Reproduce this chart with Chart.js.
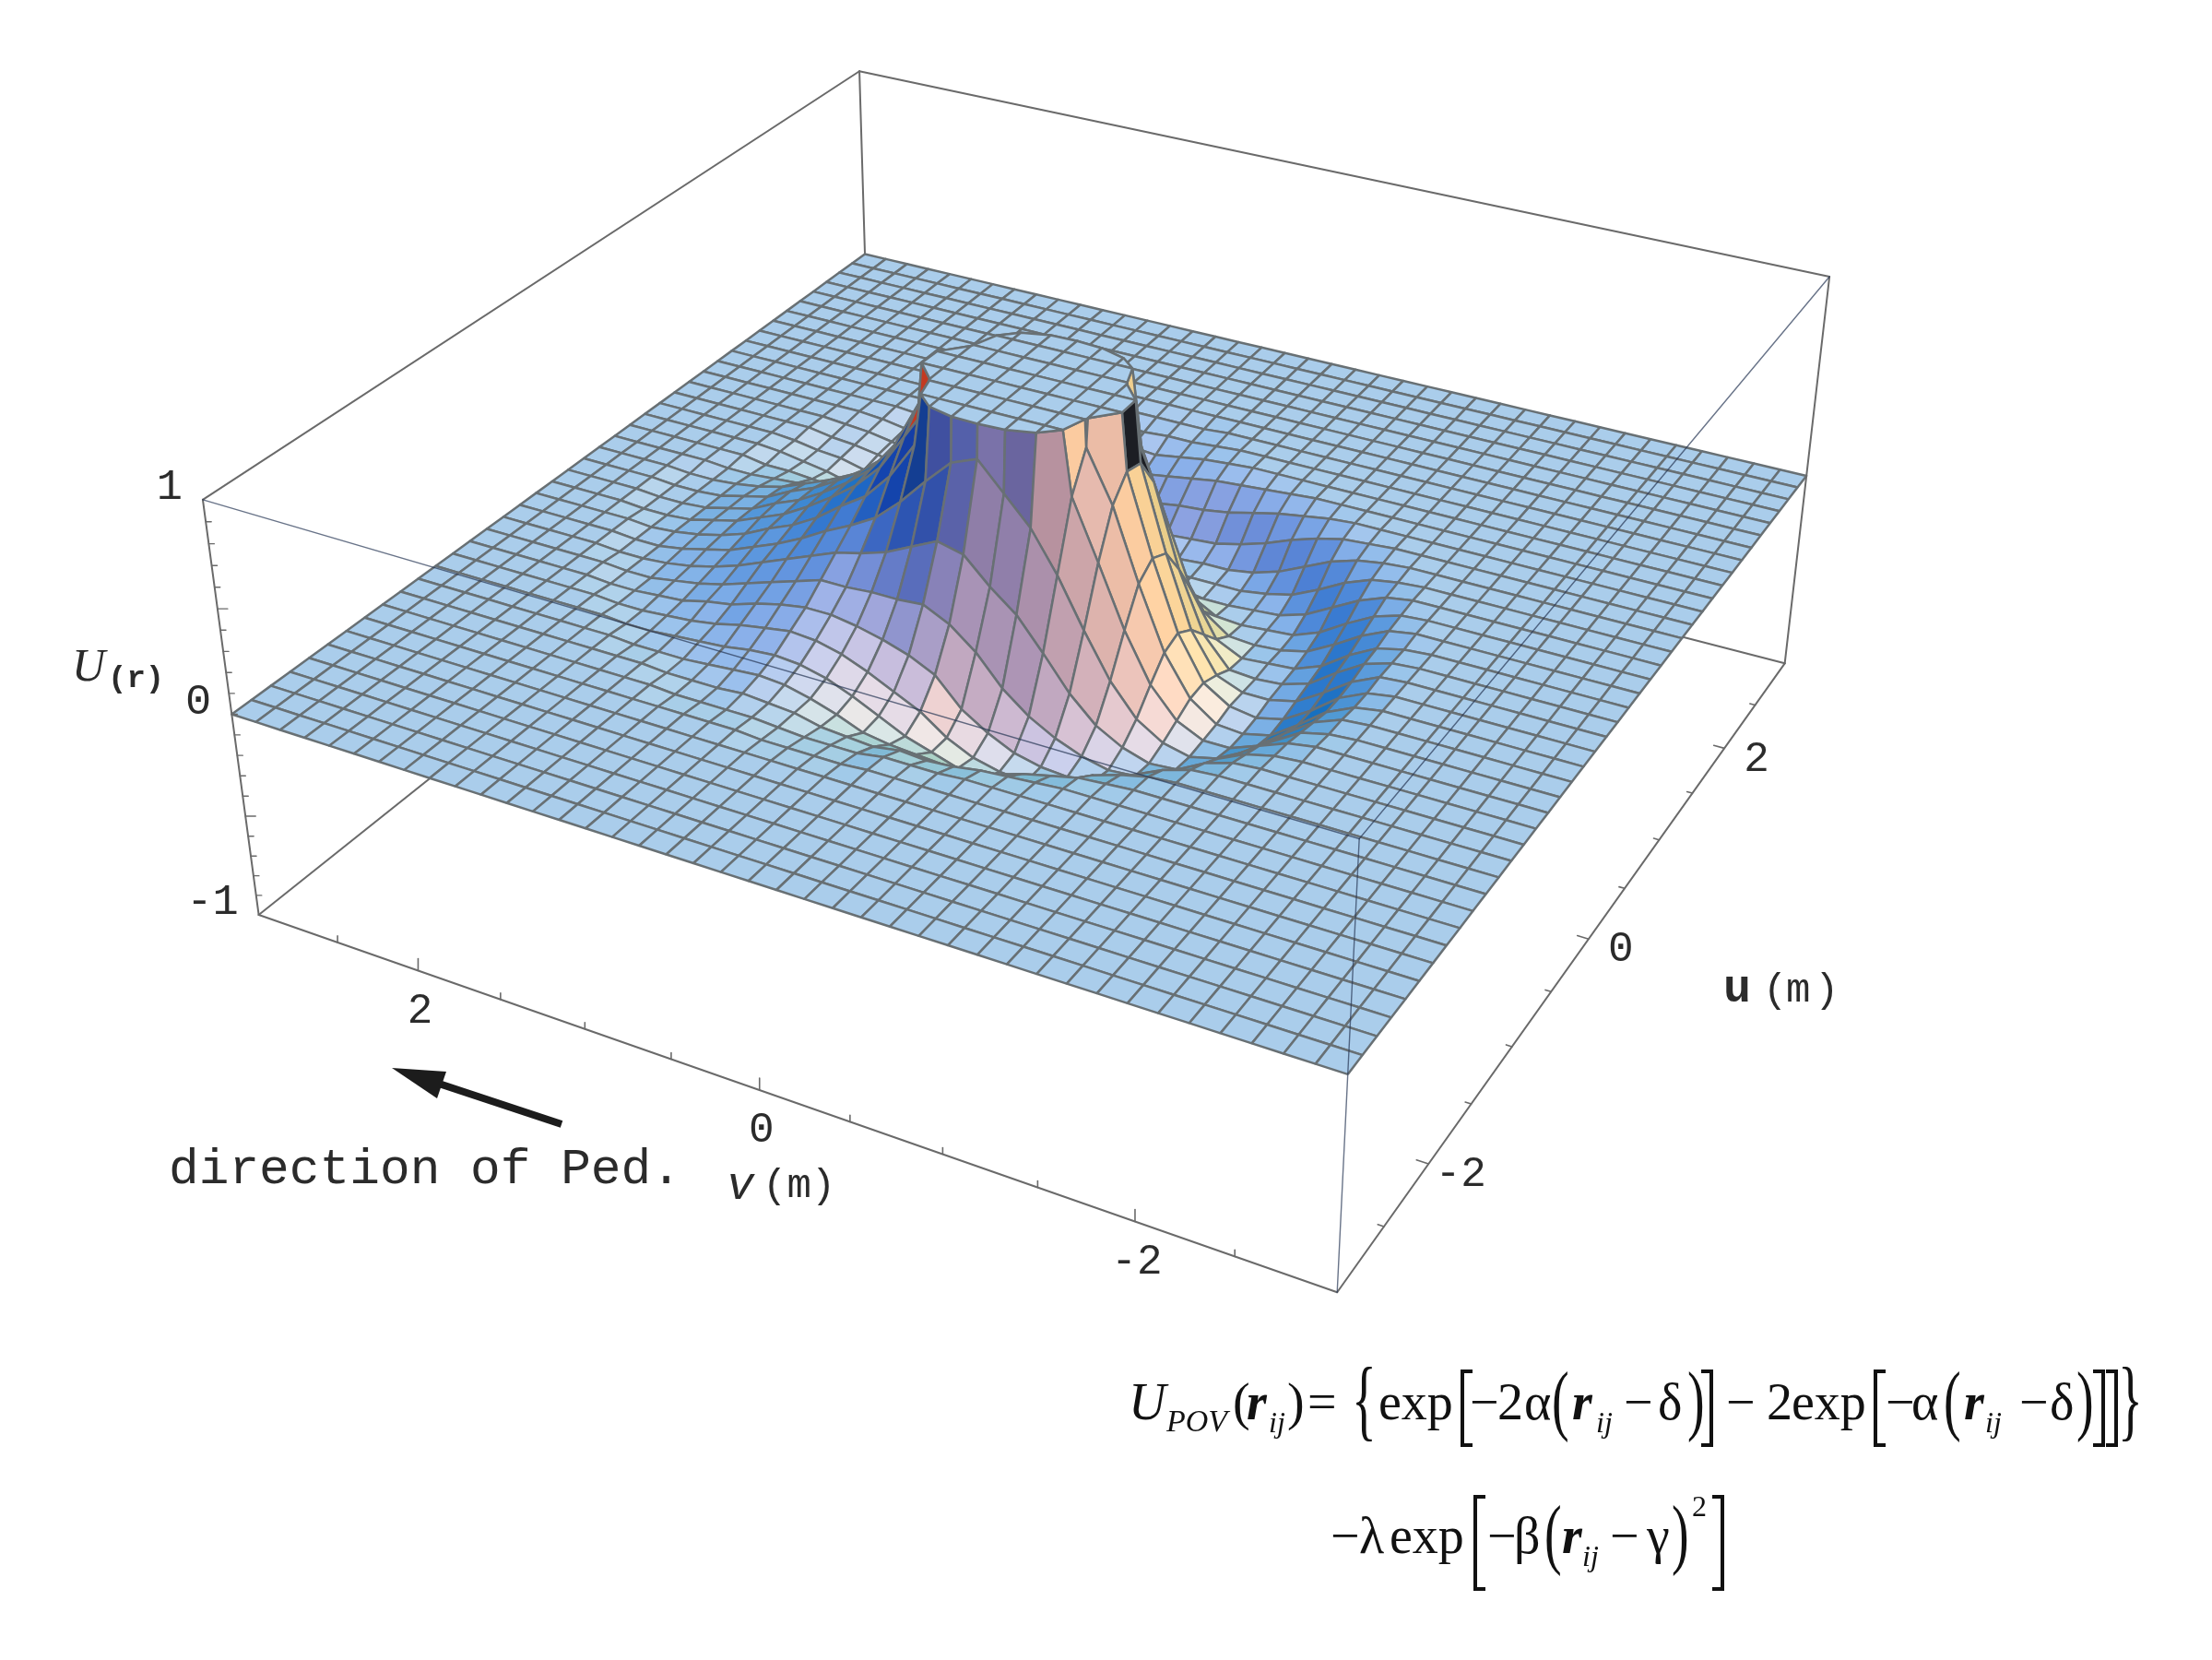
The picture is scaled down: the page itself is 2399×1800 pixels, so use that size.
<!DOCTYPE html>
<html><head><meta charset="utf-8"><style>html,body{margin:0;background:#fff}canvas{display:block}</style>
<script src="https://cdn.jsdelivr.net/npm/chart.js@4"></script></head><body>
<canvas id="c" width="2399" height="1800"></canvas>
<script>
const gridCells = 40, uTicks = [-2, 0, 2], vTicks = [2, 0, -2], zTicks = [1, 0, -1];
// Surface height U(r) x 100. Rows: u index 7..33, columns: v index 6..36; the rest of the sheet is 0.
const firstRow = 7, firstCol = 6;
const zHundredths = [
[0,0,0,0,0,0,0,0,0,0,0,0,0,0,0,-1,-1,-1,-1,0,0,0,0,0,0,0,0,0,0,0,0],
[0,0,0,0,0,0,0,0,0,0,0,0,-1,-1,-1,-3,-3,-3,-2,-1,-1,-1,-1,0,0,0,0,0,0,0,0],
[0,0,0,0,0,0,0,0,0,-1,-2,-3,-5,-6,-5,-7,-6,-5,-2,-1,0,-1,-1,-1,0,0,0,0,0,0,0],
[0,0,0,0,0,0,0,-1,-2,-5,-8,-12,-14,-15,-14,-13,-11,-6,-2,1,2,1,0,-1,-1,-1,0,0,0,0,0],
[0,0,0,0,0,0,-1,-4,-8,-14,-19,-23,-25,-24,-20,-16,-10,-4,1,4,5,4,2,1,0,-1,-1,0,0,0,0],
[0,0,0,0,0,-1,-5,-11,-18,-24,-28,-30,-29,-26,-20,-11,-5,1,6,9,10,8,6,3,1,0,-1,-1,0,0,0],
[0,0,0,0,-1,-5,-12,-20,-26,-29,-31,-30,-27,-21,-13,0,6,10,13,15,15,13,10,6,4,1,0,-1,-1,0,0],
[0,0,0,-1,-4,-10,-19,-26,-30,-31,-28,-23,-16,-6,8,18,24,23,23,22,22,18,14,10,6,3,1,-1,-1,0,0],
[0,0,0,-2,-7,-16,-25,-30,-31,-27,-20,-8,8,23,33,45,48,42,36,32,29,24,19,14,9,5,2,0,-1,-1,0],
[0,0,-1,-4,-12,-21,-28,-31,-28,-20,-5,16,39,58,71,84,79,67,54,43,36,30,23,17,12,7,4,1,-1,-1,0],
[0,0,-1,-6,-15,-25,-30,-30,-24,-10,13,42,70,160,312,370,312,160,75,57,44,36,27,20,15,9,5,2,0,-1,0],
[0,0,-2,-8,-18,-27,-30,-29,-20,-1,29,63,87,370,579,670,579,370,88,70,52,40,31,23,16,11,6,3,0,-1,-1],
[0,0,-2,-8,-18,-26,-29,-27,-19,2,35,73,208,502,785,970,785,502,208,80,57,42,32,24,17,12,6,3,0,-1,-1],
[0,0,-1,-7,-16,-24,-27,-27,-22,-3,31,71,208,502,785,970,785,502,208,76,54,42,32,24,17,12,6,3,0,-1,-1],
[0,0,-1,-5,-13,-22,-26,-27,-26,-12,17,56,85,370,579,670,579,370,89,60,39,30,25,21,15,10,5,2,0,-1,-1],
[0,0,-1,-4,-11,-20,-25,-26,-27,-21,0,32,64,160,312,370,312,160,65,36,16,9,6,7,5,3,1,0,-1,-1,0],
[0,0,0,-2,-8,-16,-23,-26,-27,-26,-17,3,27,50,66,84,77,59,36,12,-3,-10,-14,-9,-6,-4,-3,-2,-2,0,0],
[0,0,0,-1,-5,-12,-20,-25,-26,-27,-26,-19,-6,9,21,40,36,24,9,-4,-13,-20,-23,-17,-12,-8,-5,-3,-1,0,0],
[0,0,0,0,-2,-7,-14,-21,-25,-26,-27,-27,-25,-19,-12,3,2,-3,-9,-14,-20,-23,-20,-15,-10,-7,-4,-3,-1,0,0],
[0,0,0,0,-1,-3,-8,-15,-21,-24,-26,-26,-26,-26,-23,-19,-18,-18,-19,-22,-23,-20,-16,-11,-8,-5,-3,-2,0,0,0],
[0,0,0,0,0,-1,-3,-7,-13,-19,-23,-25,-25,-26,-25,-25,-24,-24,-24,-22,-19,-15,-11,-8,-6,-4,-2,-1,0,0,0],
[0,0,0,0,0,0,-1,-2,-5,-9,-14,-18,-21,-22,-23,-25,-24,-22,-20,-17,-14,-11,-8,-6,-4,-3,-1,0,0,0,0],
[0,0,0,0,0,0,0,0,-1,-3,-5,-8,-11,-13,-14,-16,-17,-17,-15,-12,-9,-7,-6,-4,-3,-1,0,0,0,0,0],
[0,0,0,0,0,0,0,0,0,0,-1,-2,-3,-4,-6,-8,-10,-10,-9,-7,-6,-5,-4,-3,-1,0,0,0,0,0,0],
[0,0,0,0,0,0,0,0,0,0,0,0,0,-1,-2,-4,-6,-5,-5,-4,-4,-3,-2,-1,0,0,0,0,0,0,0],
[0,0,0,0,0,0,0,0,0,0,0,0,0,0,-1,-2,-2,-3,-3,-2,-2,-1,0,0,0,0,0,0,0,0,0],
[0,0,0,0,0,0,0,0,0,0,0,0,0,0,0,-1,-1,-1,-1,-1,0,0,0,0,0,0,0,0,0,0,0]];
// Odd clipped faces at the rim of the top, coloured as they appear in the picture.
const faceColours={ '18,24':'#c23a22','19,24':'#c23a22','20,24':'#c23a22','19,17':'#1c1e24','20,17':'#1c1e24','21,17':'#1c1e24','22,18':'#8a5a80' };
function zAt(i,j){const row=zHundredths[i-firstRow];const v=row?row[j-firstCol]:0;return (v===undefined?0:v)/100;}

const camera = [[-3,3,1,220,541],[3,3,1,933,76],[3,-3,1,1984,301],[-3,-3,1,1475,909],[-3,3,-1,281,991],[-3,-3,-1,1450,1401],[3,-3,-1,1937,719],[-3,3,0,251,776],[3,3,0,937,277],[3,-3,0,1958,515],[-3,-3,0,1461,1166]];
function solve(A,b){const n=b.length;for(let c=0;c<n;c++){let m=c;for(let r=c+1;r<n;r++)if(Math.abs(A[r][c])>Math.abs(A[m][c]))m=r;[A[c],A[m]]=[A[m],A[c]];[b[c],b[m]]=[b[m],b[c]];for(let r=c+1;r<n;r++){const f=A[r][c]/A[c][c];for(let k=c;k<n;k++)A[r][k]-=f*A[c][k];b[r]-=f*b[c];}}const x=Array(n).fill(0);for(let r=n-1;r>=0;r--){let s=b[r];for(let k=r+1;k<n;k++)s-=A[r][k]*x[k];x[r]=s/A[r][r];}return x;}
const P=(()=>{const rows=[],rhs=[];for(const [u,v,z,X,Y] of camera){const x=X/1000,y=Y/1000;rows.push([u,v,z,1,0,0,0,0,-x*u,-x*v,-x*z]);rhs.push(x);rows.push([0,0,0,0,u,v,z,1,-y*u,-y*v,-y*z]);rhs.push(y);}
const A=Array.from({length:11},()=>Array(11).fill(0)),b=Array(11).fill(0);rows.forEach((r,q)=>{for(let a=0;a<11;a++){b[a]+=r[a]*rhs[q];for(let c=0;c<11;c++)A[a][c]+=r[a]*r[c];}});return solve(A,b);})();
function project(u,v,z){const w=P[8]*u+P[9]*v+P[10]*z+1;return {x:1000*(P[0]*u+P[1]*v+P[2]*z+P[3])/w,y:1000*(P[4]*u+P[5]*v+P[6]*z+P[7])/w};}
const gridPt=(i,j,z)=>project(-3+6*i/gridCells,-3+6*j/gridCells,z);

const phi=61.6*Math.PI/180,theta=31*Math.PI/180,zCells=8.27;
const vR=[Math.cos(phi),-Math.sin(phi),0],vU=[Math.sin(phi)*Math.sin(theta),Math.cos(phi)*Math.sin(theta),Math.cos(theta)],vV=[-Math.sin(phi)*Math.cos(theta),-Math.cos(phi)*Math.cos(theta),Math.sin(theta)];
const dot=(a,b)=>a[0]*b[0]+a[1]*b[1]+a[2]*b[2];
function colour(n){const nx=dot(n,vR)+.12,ny=dot(n,vU),nz=dot(n,vV);const cl=t=>Math.max(0,Math.min(1,t));
const R=cl(.078+.9*Math.max(0,.667*nx+.267*ny+.667*nz)),G=cl(.245+.65*Math.max(0,.577*(nx+ny+nz))),B=cl(.37+.57*Math.max(0,.707*(ny+nz)));
return `rgb(${Math.round(R*255)},${Math.round(G*255)},${Math.round(B*255)})`;}
function shade(c){const lim=p=>Math.min(p[2],1.15);const d1=[1,1,(lim(c[2])-lim(c[0]))*zCells],d2=[-1,1,(lim(c[3])-lim(c[1]))*zCells];let n=[d1[1]*d2[2]-d1[2]*d2[1],d1[2]*d2[0]-d1[0]*d2[2],d1[0]*d2[1]-d1[1]*d2[0]];const l=Math.hypot(...n);return colour(n.map(v=>v/l));}
const capColour=colour([0,0,1]);
function clip(poly,keepBelow){const out=[];for(let k=0;k<poly.length;k++){const p=poly[k],q=poly[(k+1)%poly.length];const pin=keepBelow?p[2]<=1:p[2]>=1,qin=keepBelow?q[2]<=1:q[2]>=1;if(pin)out.push(p);if(pin!==qin){const t=(1-p[2])/(q[2]-p[2]);out.push([p[0]+(q[0]-p[0])*t,p[1]+(q[1]-p[1])*t,1]);}}return out;}

const mesh='#687074',frame='#6a6a6a';
const ds=[];
const seg=(a,b,color,w)=>ds.push({data:[a,b],borderColor:color,borderWidth:w,showLine:true,pointRadius:0,fill:false,clip:false,borderCapStyle:'round'});
const A=project(-3,3,1),B=project(3,3,1),C=project(3,-3,1),D=project(-3,-3,1),E=project(-3,3,-1),F=project(-3,-3,-1),G=project(3,-3,-1),H=project(3,3,-1);
const thin='rgba(40,55,85,.7)';seg(A,D,thin,1.4);seg(D,C,thin,1.4);seg(D,F,thin,1.4);
seg(A,E,frame,2);seg(E,F,frame,2);seg(F,G,frame,2);seg(C,G,frame,2);seg(A,B,frame,2);seg(B,C,frame,2);
for(let t=-30;t<=30;t+=5){if(t===-30||t===30)continue;const v=t/10,maj=t%20===0;const a=project(-3,v,-1);seg(a,{x:a.x,y:a.y-(maj?13:7)},frame,1.6);
 const b=project(v,-3,-1),c=project(v,-3+(maj?.06:.03),-1);seg(b,c,frame,1.6);}
for(let t=-9;t<=9;t++){const a=project(-3,3,t/10);const maj=Math.abs(t)===5;seg(a,{x:a.x+(maj?11:6),y:a.y},frame,1.4);}
const addPoly=(poly,col)=>{const pts=poly.map(p=>gridPt(p[0],p[1],Math.min(p[2],1)));pts.push(pts[0]);ds.push({data:pts,borderColor:mesh,borderWidth:2.5,backgroundColor:col,fill:'shape',showLine:true,pointRadius:0,tension:0,clip:false,borderJoinStyle:'round'});};
for(let i=0;i<gridCells;i++)for(let j=0;j<gridCells;j++){const c=[[i,j,zAt(i,j)],[i+1,j,zAt(i+1,j)],[i+1,j+1,zAt(i+1,j+1)],[i,j+1,zAt(i,j+1)]];const col=faceColours[i+','+j]||shade(c);
 if(c.every(p=>p[2]<=1))addPoly(c,col);else if(c.every(p=>p[2]>=1))addPoly(c,capColour);
 else{addPoly(clip(c,false),capColour);addPoly(clip(c,true),col);}}
seg(E,H,frame,2);seg(G,H,frame,2);seg(B,H,frame,2);

const ink='#2b2b2b',mono='"Liberation Mono"',serif='"Liberation Serif"';
function labels(ctx,chart){const X=chart.scales.x,Y=chart.scales.y;const T=(t,x,y,f,al='left',bl='alphabetic',col=ink)=>{ctx.font=f;ctx.textAlign=al;ctx.textBaseline=bl;ctx.fillStyle=col;ctx.fillText(t,X.getPixelForValue(x),Y.getPixelForValue(y));};
 ctx.save();
 for(const t of zTicks){const p=project(-3,3,t);T(String(t),p.x-22,p.y-13,`47px ${mono}`,'right','middle');}
 for(const t of vTicks){const p=project(-3,t,-1);T(String(t),p.x+2,p.y+44,`46px ${mono}`,'center','middle');}
 for(const t of uTicks){const p=project(t,-3,-1);T(String(t),p.x+35,p.y+12,`46px ${mono}`,'center','middle');}
 T('U',78,738,`italic 50px ${serif}`);T('(r)',117,745,`bold 34px ${mono}`);
 T('v',788,1300,`italic 50px ${mono}`);T('(m)',827,1298,`44px ${mono}`);
 T('u',1869,1086,`bold 50px ${mono}`);T('(',1912,1086,`44px ${mono}`);T('m',1937,1086,`44px ${mono}`);T(')',1968,1086,`44px ${mono}`);
 T('direction of Ped.',183,1283,`54.5px ${mono}`);
 ctx.strokeStyle='#1c1c1c';ctx.lineWidth=8;ctx.beginPath();ctx.moveTo(609,1219);ctx.lineTo(470,1173);ctx.stroke();
 ctx.fillStyle='#1c1c1c';ctx.beginPath();ctx.moveTo(425,1158);ctx.lineTo(484,1162);ctx.lineTo(474,1191);ctx.closePath();ctx.fill();
 const f=`56px ${serif}`,fi=`italic 56px ${serif}`,fb=`italic bold 56px ${serif}`,sub=`italic 32px ${serif}`;
 const big=(t,x,yc,sy,sx=1)=>{ctx.save();ctx.translate(x,yc);ctx.scale(sx,sy);ctx.font=f;ctx.textAlign='left';ctx.textBaseline='alphabetic';ctx.fillStyle='#111';ctx.fillText(t,0,56*.23);ctx.restore();};
 const br=(x,y0,y1,dir)=>{ctx.strokeStyle='#111';ctx.lineWidth=4;ctx.beginPath();ctx.moveTo(x+dir*11,y0);ctx.lineTo(x,y0);ctx.lineTo(x,y1);ctx.lineTo(x+dir*11,y1);ctx.stroke();};
 const b1=1539,b2=1684,q='#111';
 [['U',1224,b1,fi],['POV',1265,b1+13,`italic 34px ${serif}`],['(',1337,b1,f],['r',1352,b1,fb],['ij',1376,b1+14,sub],[')',1396,b1,f],['=',1418,b1,f],['exp',1495,b1,f],['−',1594,b1,f],['2',1624,b1,f],['α',1653,b1,f],['r',1705,b1,fb],['ij',1731,b1+14,sub],['−',1761,b1,f],['δ',1798,b1,f],['−',1872,b1,f],['2',1916,b1,f],['exp',1943,b1,f],['−',2045,b1,f],['α',2073,b1,f],['r',2130,b1,fb],['ij',2153,b1+14,sub],['−',2190,b1,f],['δ',2223,b1,f],
  ['−',1443,b2,f],['λ',1474,b2,f],['exp',1507,b2,f],['−',1613,b2,f],['β',1642,b2,f],['r',1694,b2,fb],['ij',1716,b2+14,sub],['−',1746,b2,f],['γ',1786,b2,f],['2',1835,1644,`32px ${serif}`]
 ].forEach(([t,x,y,ff])=>T(t,x,y,ff,'left','alphabetic',q));
 const yc1=1527,yc2=1672;
 big('{',1466,yc1,1.75,1);big('(',1683,yc1,1.5,1);big(')',1830,yc1,1.5,1);big('(',2108,yc1,1.5,1);big(')',2252,yc1,1.5,1);big('}',2297,yc1,1.75,1);
 big('(',1675,yc2,1.5,1);big(')',1813,yc2,1.5,1);
 br(1586,1487,1567,1);br(1856,1487,1567,-1);br(2034,1487,1567,1);br(2281,1487,1567,-1);br(2295,1487,1567,-1);
 br(1600,1623,1723,1);br(1868,1623,1723,-1);
 ctx.restore();}

new Chart(document.getElementById('c'),{type:'scatter',data:{datasets:ds},plugins:[{id:'txt',afterDraw:c=>labels(c.ctx,c)},{id:'bg',beforeDraw:c=>{c.ctx.fillStyle='#fff';c.ctx.fillRect(0,0,2399,1800);}}],
 options:{responsive:false,animation:false,events:[],layout:{padding:0},plugins:{legend:{display:false},tooltip:{enabled:false}},
 scales:{x:{type:'linear',min:0,max:2399,display:false},y:{type:'linear',min:0,max:1800,reverse:true,display:false}}}});
</script></body></html>
